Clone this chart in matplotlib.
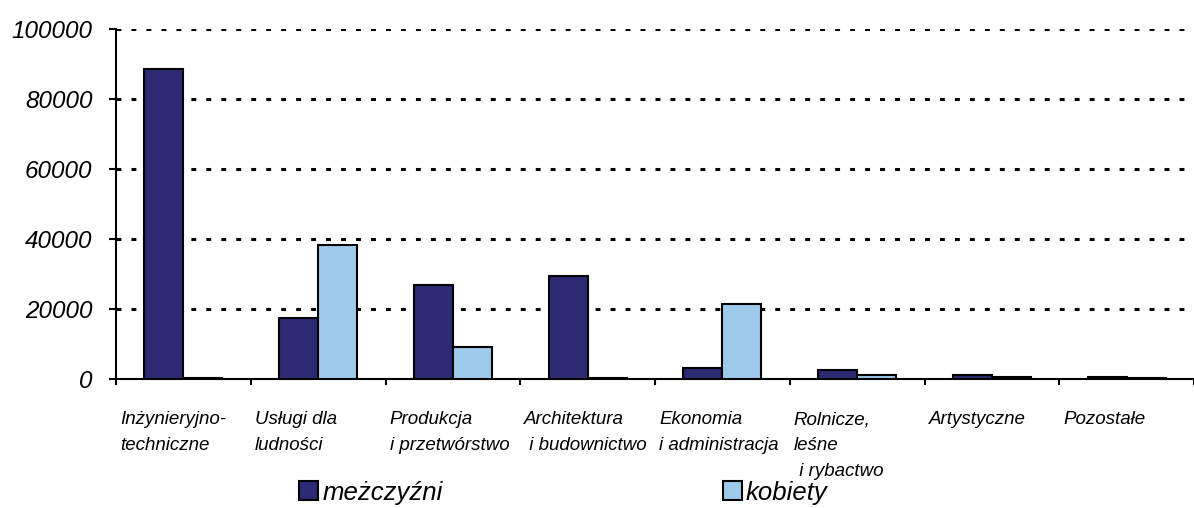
import matplotlib
matplotlib.use('Agg')
import matplotlib.pyplot as plt
import numpy as np

kategorie = ['Inżynieryjno-\ntechniczne', 'Usługi dla\nludności', 'Produkcja\ni przetwórstwo',
             'Architektura\n i budownictwo', 'Ekonomia\ni administracja', 'Rolnicze,\nleśne\n i rybactwo',
             'Artystyczne', 'Pozostałe']
mezczyzni = [88700, 17400, 26900, 29600, 3100, 2600, 1200, 600]
kobiety = [500, 38300, 9100, 400, 21500, 1200, 600, 500]
y_ticki = [0, 20000, 40000, 60000, 80000, 100000]

GRANAT = '#2B2A72'
BLEKIT = '#9DCAEB'

plt.rcParams['font.family'] = ['Liberation Sans', 'DejaVu Sans']
plt.rcParams['font.style'] = 'italic'

fig = plt.figure(figsize=(11.94, 5.08), dpi=100)
ax = fig.add_axes([116 / 1194, 0.2533, 1 - 116 / 1194, 0.689])

x = np.arange(len(kategorie))
w = 0.29
ax.bar(x - w / 2, mezczyzni, width=w, color=GRANAT, edgecolor='black', linewidth=1.5, label='meżczyźni', zorder=3)
ax.bar(x + w / 2, kobiety, width=w, color=BLEKIT, edgecolor='black', linewidth=1.5, label='kobiety', zorder=3)

ax.set_xlim(-0.5, -0.5 + (1194 - 116) / 136)
ax.set_ylim(0, 100000)

# siatka kropkowana
for v in y_ticki[1:]:
    ax.axhline(v, color='black', linewidth=2.2, linestyle=(0, (1.6, 3.3)), zorder=1)

ax.spines['top'].set_visible(False)
ax.spines['right'].set_visible(False)
ax.spines['left'].set_linewidth(1.5)
ax.spines['bottom'].set_linewidth(1.5)

ax.set_yticks(y_ticki)
ax.set_yticklabels([str(v) for v in y_ticki], fontsize=17.5, style='italic')
ax.tick_params(axis='y', length=5, width=1.5, pad=12)

# kreski na granicach kategorii, podpisy wyrownane do lewej
ax.set_xticks(np.arange(len(kategorie) + 1) - 0.5, minor=True)
ax.set_xticks(x - 0.47)
ax.set_xticklabels(kategorie, fontsize=13.5, style='italic', ha='left', va='top', linespacing=1.7)
ax.tick_params(axis='x', which='major', length=0, pad=23)
ax.tick_params(axis='x', which='minor', length=4.5, width=1.5)

fig.legend(loc='center left', bbox_to_anchor=(299 / 1194, 0.03), ncol=2, frameon=False,
           fontsize=18.5, handlelength=0.75, handleheight=0.75, handletextpad=0.15,
           columnspacing=10.9, borderpad=0, borderaxespad=0)

fig.savefig('out.png', dpi=100)
